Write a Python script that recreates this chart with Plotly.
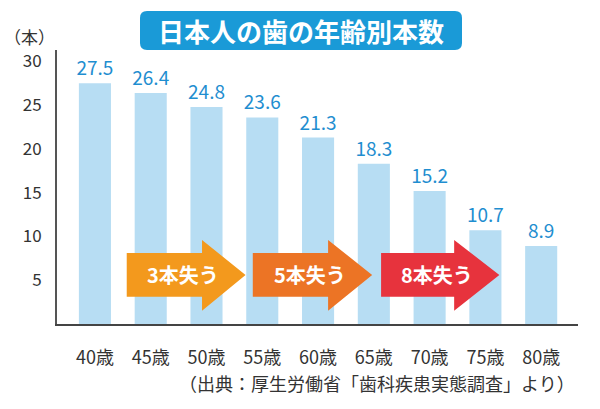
import plotly.graph_objects as go

# data
ages = ["40歳", "45歳", "50歳", "55歳", "60歳", "65歳", "70歳", "75歳", "80歳"]
teeth = [27.5, 26.4, 24.8, 23.6, 21.3, 18.3, 15.2, 10.7, 8.9]
y_ticks = [5, 10, 15, 20, 25, 30]

loss_labels = ["3本失う", "5本失う", "8本失う"]
loss_colors = ["#f3991d", "#ec7425", "#e7333d"]
# arrow spans in category units (start, head start, tip)
loss_spans = [(0.57, 1.92, 2.70), (2.83, 4.18, 4.97), (5.13, 6.44, 7.25)]

W, H = 600, 409
ML, MR, MT, MB = 57, 22, 50, 85


def px_x(px):
    return (px - ML) / (W - ML - MR)


def px_y(py):
    return (H - MB - py) / (H - MT - MB)


def rounded_rect(x0, y0, x1, y1, r):
    # pixel coords -> paper path
    pts = [
        f"M {px_x(x0 + r)},{px_y(y0)}",
        f"L {px_x(x1 - r)},{px_y(y0)}",
        f"Q {px_x(x1)},{px_y(y0)} {px_x(x1)},{px_y(y0 + r)}",
        f"L {px_x(x1)},{px_y(y1 - r)}",
        f"Q {px_x(x1)},{px_y(y1)} {px_x(x1 - r)},{px_y(y1)}",
        f"L {px_x(x0 + r)},{px_y(y1)}",
        f"Q {px_x(x0)},{px_y(y1)} {px_x(x0)},{px_y(y1 - r)}",
        f"L {px_x(x0)},{px_y(y0 + r)}",
        f"Q {px_x(x0)},{px_y(y0)} {px_x(x0 + r)},{px_y(y0)}",
        "Z",
    ]
    return " ".join(pts)


def arrow_path(x0, xh, x1, body=(3.1, 8.1), head=(1.5, 9.6)):
    mid = (body[0] + body[1]) / 2
    return (
        f"M {x0},{body[1]} L {xh},{body[1]} L {xh},{head[1]} L {x1},{mid} "
        f"L {xh},{head[0]} L {xh},{body[0]} L {x0},{body[0]} Z"
    )


font_jp = "Noto Sans CJK JP"

fig = go.Figure()
fig.add_trace(
    go.Bar(
        x=list(range(len(ages))),
        y=teeth,
        width=0.575,
        marker=dict(color="#b7ddf3", line=dict(width=0)),
        text=[f"{v:.1f}" for v in teeth],
        textposition="outside",
        constraintext="none",
        textfont=dict(color="#1f8ed0", size=19, family=font_jp),
        cliponaxis=False,
        hoverinfo="skip",
    )
)

shapes = []
annotations = []

# title box
shapes.append(
    dict(
        type="path",
        xref="paper",
        yref="paper",
        path=rounded_rect(140, 11, 462, 50, 7),
        fillcolor="#1a9ad7",
        line=dict(width=0),
        layer="above",
    )
)
annotations.append(
    dict(
        text="<b>日本人の歯の年齢別本数</b>",
        x=px_x(301),
        y=px_y(30),
        xref="paper",
        yref="paper",
        xanchor="center",
        yanchor="middle",
        showarrow=False,
        font=dict(size=26, color="white", family=font_jp),
    )
)
annotations.append(
    dict(
        text="（本）",
        x=px_x(2),
        y=px_y(37),
        xref="paper",
        yref="paper",
        xanchor="left",
        yanchor="middle",
        showarrow=False,
        font=dict(size=17, color="#333333", family=font_jp),
    )
)

for lbl, col, (x0, xh, x1) in zip(loss_labels, loss_colors, loss_spans):
    shapes.append(
        dict(
            type="path",
            xref="x",
            yref="y",
            path=arrow_path(x0, xh, x1),
            fillcolor=col,
            line=dict(width=0),
            layer="above",
        )
    )
    annotations.append(
        dict(
            text=f"<b>{lbl}</b>",
            x=(x0 + x1) / 2 - 0.05,
            y=5.6,
            xref="x",
            yref="y",
            xanchor="center",
            yanchor="middle",
            showarrow=False,
            font=dict(size=20, color="white", family=font_jp),
        )
    )

annotations.append(
    dict(
        text="（出典：厚生労働省「歯科疾患実態調査」より）",
        x=px_x(577),
        y=px_y(383),
        xref="paper",
        yref="paper",
        xanchor="right",
        yanchor="middle",
        showarrow=False,
        font=dict(size=18, color="#333333", family=font_jp),
    )
)

fig.update_xaxes(
    range=[-0.68, 8.66],
    tickvals=list(range(len(ages))),
    ticktext=ages,
    showline=True,
    linecolor="#444444",
    linewidth=2,
    showgrid=False,
    zeroline=False,
    ticks="",
    ticklabelstandoff=16,
    tickfont=dict(size=18, color="#333333", family=font_jp),
    fixedrange=True,
)
fig.update_yaxes(
    range=[0, 31.3],
    tickvals=y_ticks,
    showline=True,
    linecolor="#555555",
    linewidth=2,
    showgrid=False,
    zeroline=False,
    ticks="",
    ticklabelstandoff=10,
    tickfont=dict(size=17, color="#333333", family=font_jp),
    fixedrange=True,
)

fig.update_layout(
    width=W,
    height=H,
    margin=dict(l=ML, r=MR, t=MT, b=MB, pad=0),
    paper_bgcolor="white",
    plot_bgcolor="white",
    template="none",
    showlegend=False,
    shapes=shapes,
    annotations=annotations,
    font=dict(family=font_jp),
)

fig.write_html(
    "out.html",
    config=dict(displayModeBar=False),
    post_script="document.body.style.margin='0';",
)
